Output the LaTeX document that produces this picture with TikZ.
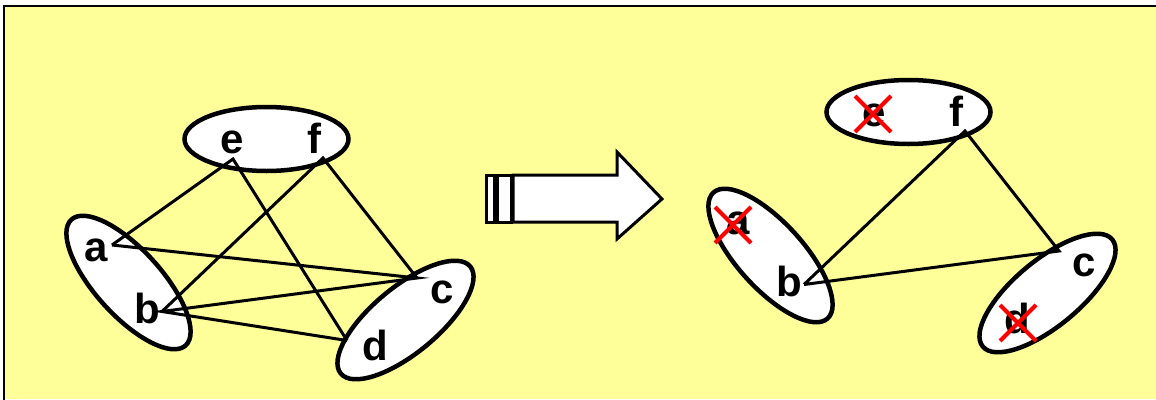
\documentclass[tikz,border=0pt]{standalone}
\usepackage{fontspec}
\setmainfont{Liberation Sans}
\usetikzlibrary{shapes.geometric}
\definecolor{slidebg}{HTML}{FFFF99}
\tikzset{
  grp/.style={ellipse, draw, line width=4.5pt, fill=white, inner sep=0pt},
  lbl/.style={anchor=base, inner sep=0pt, font=\bfseries\fontsize{42}{42}\selectfont},
  link/.style={line width=3pt},
  strike/.style={red, line width=4pt},
  bigarrow/.style={draw, fill=white, line width=3pt, line join=miter},
}
\begin{document}
\begin{tikzpicture}[x=1pt, y=-1pt]
    \useasboundingbox (0,0) rectangle (1156,399);
    % slide background and frame
    \fill[white] (0,0) rectangle (1156,399);
    \fill[slidebg] (4,5.5) rectangle (1156,399);
    \draw[line width=2pt] (4,410) -- (4,5.5) -- (1170,5.5);
    % left graph: groups
    \node[grp, minimum width=164pt, minimum height=64pt] (ef) at (266.5,139) {};
    \node[grp, minimum width=170pt, minimum height=66pt, rotate=-47.8] (ab) at (128.5,282.5) {};
    \node[grp, minimum width=168pt, minimum height=66pt, rotate=39.6] (cd) at (405.5,320) {};
    % left graph: end points
    \coordinate (pe) at (233,159);
    \coordinate (pf) at (323,158);
    \coordinate (pa) at (112,245);
    \coordinate (pb) at (162,311.5);
    \coordinate (pc) at (417,278);
    \coordinate (pd) at (347,340.5);
    \draw[link] (pa) -- (pe) -- (pd);
    \draw[link] (pb) -- (pf) -- (pc);
    \draw[link] (pa) -- (pc) -- (pb) -- (pd);
    % left graph: labels
    \node[lbl] (e) at (232,153) {e};
    \node[lbl] (f) at (314,153) {f};
    \node[lbl] (a) at (96,261) {a};
    \node[lbl] (b) at (147,323) {b};
    \node[lbl] (c) at (442,303) {c};
    \node[lbl] (d) at (375,360) {d};
    % striped arrow
    \draw[bigarrow] (486,175) rectangle (494,222);
    \draw[bigarrow] (497,175) rectangle (511,222);
    \draw[bigarrow] (513,175) -- (617,175) -- (617,152) -- (662,199)
        -- (617,239) -- (617,222) -- (513,222) -- cycle;
    % right graph
    \begin{scope}[shift={(642,-27)}]
      \node[grp, minimum width=164pt, minimum height=64pt] (ref) at (266.5,139) {};
      \node[grp, minimum width=170pt, minimum height=66pt, rotate=-47.8] (rab) at (128.5,282.5) {};
      \node[grp, minimum width=168pt, minimum height=66pt, rotate=39.6] (rcd) at (405.5,320) {};
      \coordinate (rpf) at (323,158);
      \coordinate (rpb) at (162,311.5);
      \coordinate (rpc) at (417,278);
      \draw[link] (rpb) -- (rpf) -- (rpc) -- (rpb);
      \node[lbl] (re) at (232,153) {e};
      \node[lbl] (rf) at (314,153) {f};
      \node[lbl] (ra) at (96,261) {a};
      \node[lbl] (rb) at (147,323) {b};
      \node[lbl] (rc) at (442,303) {c};
      \node[lbl] (rd) at (375,360) {d};
      % removed vertices
      \draw[strike] (213,123) -- (249,159) (213,159) -- (249,123);
      \draw[strike] (73,234) -- (109,270) (73,270) -- (109,234);
      \draw[strike] (358,332) -- (394,368) (358,368) -- (394,332);
    \end{scope}
\end{tikzpicture}
\end{document}
